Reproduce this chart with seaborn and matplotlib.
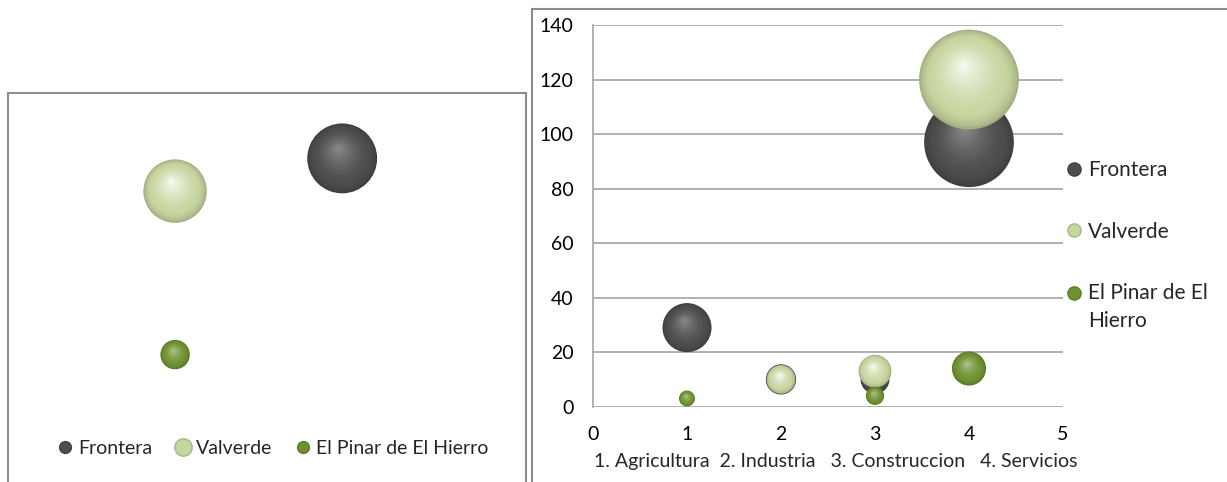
import numpy as np
import pandas as pd
import seaborn as sns
import matplotlib.pyplot as plt
from matplotlib.path import Path
from matplotlib.markers import MarkerStyle
from matplotlib.lines import Line2D
from matplotlib.patches import Rectangle
from matplotlib.colors import to_rgb

# --- data ---
series = ["Frontera", "Valverde", "El Pinar de El Hierro"]
colors = ["#4d4d4d", "#c6d69f", "#6f9130"]
shine = [0.32, 0.8, 0.42]   # how far the highlight goes toward white

# left chart (no axes shown)
left_x = [2, 1, 1]
left_y = [80, 70, 20]
left_size = [17, 14, 3]

# right chart: sectors 1..4
sector = [1, 2, 3, 4]
frontera_y = [29, 10, 10, 97]
valverde_y = [np.nan, 10, 13, 120]
pinar_y = [3, np.nan, 4, 14]
frontera_size = [29, 11, 10, 97]
valverde_size = [np.nan, 10, 13, 120]
pinar_size = [3, np.nan, 4, 14]

xlabel = "1. Agricultura  2. Industria   3. Construccion   4. Servicios"

sns.set_theme(style="white")
plt.rcParams['font.family'] = ['Lato', 'DejaVu Sans']

right_df = pd.concat([
    pd.DataFrame({"serie": s, "x": sector, "y": ys, "size": ss})
    for s, ys, ss in zip(series, [frontera_y, valverde_y, pinar_y],
                         [frontera_size, valverde_size, pinar_size])
]).dropna()
left_df = pd.DataFrame({"serie": series, "x": left_x, "y": left_y, "size": left_size})


def offset_circle(cx, cy, r):
    # keep the marker box fixed so the circle can sit off-centre
    frame = Path([(-1, -1), (1, 1)], [Path.MOVETO, Path.MOVETO])
    return MarkerStyle(Path.make_compound_path(frame, Path.circle((cx, cy), r)))


def sphere(ax, data, color, amount, smax, vmax, layers=28):
    base = np.array(to_rgb(color))
    dark = base * 0.82
    light = base + (1 - base) * amount
    for f in np.linspace(1, 0.06, layers):
        t = 1 - f
        if f > 0.8:
            k = (t / 0.2) ** 0.7
            c = dark + (base - dark) * k
        else:
            k = ((0.8 - f) / 0.74) ** 1.4
            c = base + (light - base) * k
        sns.scatterplot(data=data, x="x", y="y", size="size",
                        sizes=(0, smax), size_norm=(0, vmax),
                        marker=offset_circle(-0.12 * t, 0.3 * t, f),
                        color=tuple(np.clip(c, 0, 1)), linewidth=0,
                        edgecolor="none", legend=False, ax=ax, zorder=3)


fig = plt.figure(figsize=(12.27, 4.82), dpi=100)

# frames around both charts
fig.add_artist(Rectangle((8 / 1227, -0.02), 518 / 1227, 1.02 - 93 / 482,
                         transform=fig.transFigure, fill=False,
                         ec="#8c8c8c", lw=1.5))
fig.add_artist(Rectangle((532 / 1227, -0.02), 0.6, 1.02 - 9 / 482,
                         transform=fig.transFigure, fill=False,
                         ec="#8c8c8c", lw=1.5))

# ---- left chart ----
axl = fig.add_axes([8 / 1227, 62 / 482, 518 / 1227, 327 / 482])
for s, c, a in zip(series, colors, shine):
    sphere(axl, left_df[left_df.serie == s], c, a, smax=17 * 149, vmax=17)
axl.set_xlim(0, 3.1)
axl.set_ylim(0, 100)
axl.axis("off")

hl = [Line2D([], [], marker="o", ls="", color=c, markersize=m,
             markeredgecolor=tuple(np.array(to_rgb(c)) * 0.85))
      for c, m in zip(colors, [8.5, 12.5, 8.5])]
axl.legend(hl, series, loc="center", ncol=3, frameon=False,
           bbox_to_anchor=(273 / 1227, 1 - 448 / 482),
           bbox_transform=fig.transFigure, fontsize=14,
           handlelength=0.8, handletextpad=0.25, columnspacing=1.2,
           borderpad=0, borderaxespad=0)

# ---- right chart ----
ax = fig.add_axes([593 / 1227, 75.3 / 482, 470 / 1227, 381.7 / 482])
for s, c, a in zip(series, colors, shine):
    sphere(ax, right_df[right_df.serie == s], c, a, smax=120 * 43, vmax=120)
ax.set_xlim(0, 5)
ax.set_ylim(0, 140)
ax.set_xticks(range(0, 6))
ax.set_yticks(range(0, 141, 20))
ax.grid(axis="y", color="#a3a3a3", lw=1.2)
ax.set_axisbelow(True)
for side in ["top", "right", "bottom"]:
    ax.spines[side].set_visible(False)
ax.spines["left"].set_color("#a3a3a3")
ax.spines["left"].set_linewidth(1.2)
ax.tick_params(length=0, labelsize=14, colors="black")
ax.tick_params(axis="y", pad=14)
ax.tick_params(axis="x", pad=14)
ax.set_xlabel(xlabel, fontsize=14, labelpad=7)
ax.xaxis.label.set_x(0.5 + 8 / 470)
ax.set_ylabel("")

hr = [Line2D([], [], marker="o", ls="", color=c, markersize=9.5,
             markeredgecolor=tuple(np.array(to_rgb(c)) * 0.85)) for c in colors]
leg = ax.legend(hr, ["Frontera", "Valverde", "El Pinar de El\nHierro"],
                loc="upper left", frameon=False,
                bbox_to_anchor=(1066 / 1227, 1 - 160 / 482),
                bbox_transform=fig.transFigure, fontsize=15,
                handlelength=0.8, handletextpad=0.25, labelspacing=2.0,
                borderpad=0, borderaxespad=0)
for t in leg.get_texts():
    t.set_linespacing(1.5)
# marker of the two-line entry sits on its first line
h = leg.legend_handles[2]
h.set_ydata(np.asarray(h.get_ydata()) + 11)

fig.savefig("out.png", dpi=100)
